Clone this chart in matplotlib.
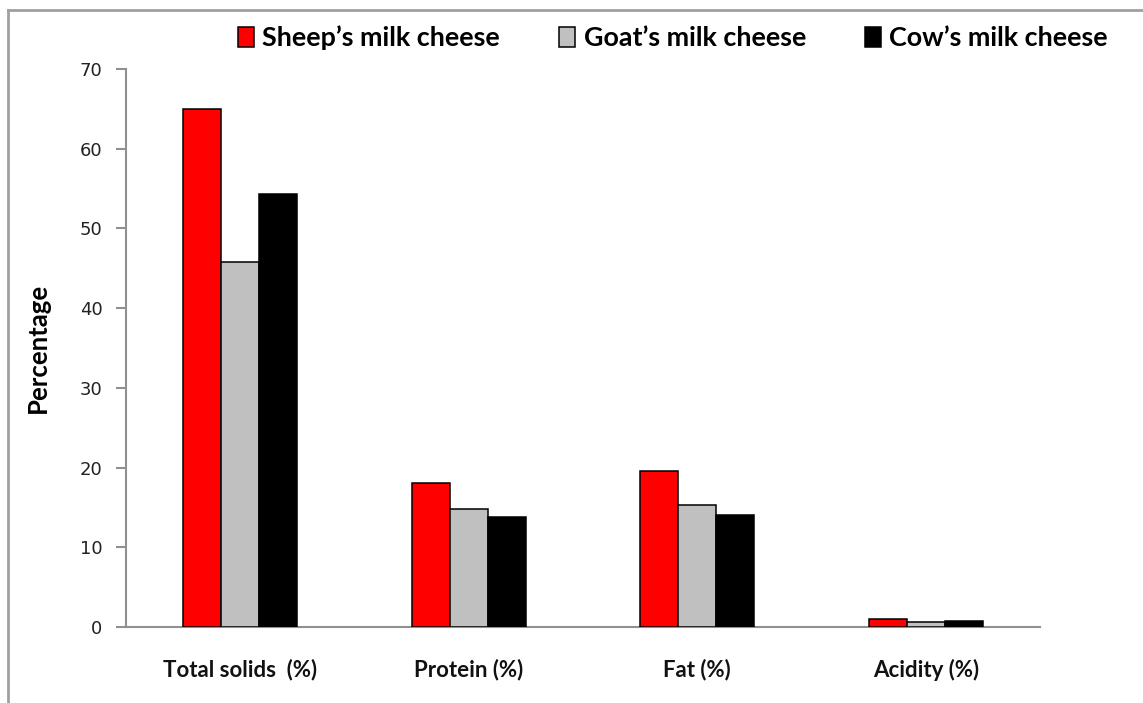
import matplotlib
matplotlib.use("Agg")
import matplotlib.pyplot as plt
import numpy as np
from matplotlib.lines import Line2D

categories = ["Total solids  (%)", "Protein (%)", "Fat (%)", "Acidity (%)"]
series_names = ["Sheep\u2019s milk cheese", "Goat\u2019s milk cheese", "Cow\u2019s milk cheese"]
sheep = [65.0, 18.1, 19.6, 1.0]
goat = [45.8, 14.8, 15.3, 0.6]
cow = [54.3, 13.8, 14.1, 0.75]
colors = ["#ff0000", "#c0c0c0", "#000000"]
yticks = [0, 10, 20, 30, 40, 50, 60, 70]

fig = plt.figure(figsize=(11.43, 7.03), dpi=100)
ax = fig.add_axes([126/1143, 1-627/703, (1040-126)/1143, (627-69)/703])

x = np.arange(len(categories))
w = 1/6
for i, (vals, c, name) in enumerate(zip([sheep, goat, cow], colors, series_names)):
    ax.bar(x + (i-1)*w, vals, width=w, color=c, edgecolor="black", linewidth=1.1, label=name, zorder=3)

ax.set_xlim(-0.5, 3.5)
ax.set_ylim(0, 70)
ax.set_yticks(yticks)
ax.set_yticklabels([str(t) for t in yticks], fontsize=13, family="DejaVu Sans", color="#222222")
ax.set_xticks(x)
ax.set_xticklabels(categories, fontsize=16, fontweight="bold", family="Lato", color="#111111")
ax.tick_params(axis="x", length=0, pad=23)
ax.tick_params(axis="y", length=7, width=1.5, color="#909090", direction="out", pad=10)
for s in ["top", "right"]:
    ax.spines[s].set_visible(False)
for s in ["left", "bottom"]:
    ax.spines[s].set_color("#909090")
    ax.spines[s].set_linewidth(1.5)
ax.set_ylabel("Percentage", fontsize=18.5, fontweight="bold", family="Lato")
ax.yaxis.set_label_coords(-(126-50)/914, 0.5)

handles, labels = ax.get_legend_handles_labels()
leg = fig.legend(handles, labels, loc="center", bbox_to_anchor=(673/1143, 1-38/703), ncol=3,
                 frameon=False, prop={"family": "Lato", "weight": "bold", "size": 19.4},
                 handlelength=0.6, handleheight=0.75, handletextpad=0.3, columnspacing=2.2,
                 borderaxespad=0)

# outer frame lines
fig.add_artist(Line2D([8/1143, 1.0], [1-10/703, 1-10/703], transform=fig.transFigure, color="#a0a0a0", linewidth=2))
fig.add_artist(Line2D([8/1143, 8/1143], [0.0, 1-10/703], transform=fig.transFigure, color="#a0a0a0", linewidth=2))

fig.savefig("out.png", dpi=100)
